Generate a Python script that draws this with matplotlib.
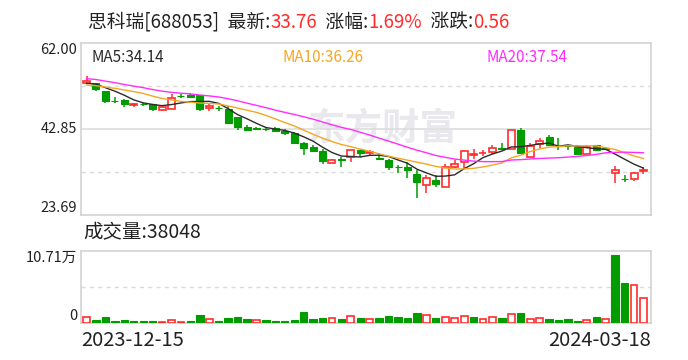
import numpy as np
import pandas as pd
import matplotlib
matplotlib.use("Agg")
import matplotlib.pyplot as plt
import matplotlib.transforms as mtransforms

plt.rcParams["font.family"] = ["Noto Sans CJK SC", "DejaVu Sans"]

# ── data ─────────────────────────────────────────────────────
opens  = [53.16, 53.00, 51.38, 49.15, 49.31, 48.13, 48.42, 48.35, 47.15, 47.37,
          50.25, 50.35, 50.35, 47.46, 47.50, 47.37, 45.52, 43.36, 42.95, 42.90,
          43.07, 42.47, 41.89, 39.80, 38.84, 38.02, 35.27, 36.23, 36.70, 38.17,
          37.50, 36.40, 35.94, 34.38, 34.38, 32.98, 30.53, 31.49, 30.09, 34.45,
          35.43, 37.06, 37.45, 37.66, 38.50, 38.47, 42.56, 36.70, 39.51, 41.07,
          39.15, 39.12, 38.90, 37.21, 39.22, 38.50, 33.20, 31.75, 31.65, 33.60]
highs  = [54.65, 53.05, 51.40, 49.90, 49.60, 48.60, 48.70, 48.40, 47.80, 50.58,
          50.64, 50.80, 50.40, 48.57, 47.97, 47.97, 45.60, 43.74, 43.36, 43.36,
          43.36, 42.78, 42.18, 39.95, 39.22, 38.47, 36.17, 36.70, 38.17, 38.30,
          38.17, 37.44, 36.10, 34.90, 35.50, 33.72, 32.67, 32.54, 35.05, 35.94,
          38.17, 38.39, 38.17, 39.29, 39.73, 42.70, 43.07, 39.66, 40.84, 41.51,
          40.84, 39.25, 39.29, 39.22, 39.22, 38.84, 34.61, 32.54, 33.42, 34.45]
lows   = [53.00, 51.38, 48.57, 48.57, 47.80, 47.80, 48.10, 46.90, 46.90, 47.37,
          49.75, 49.90, 46.79, 46.79, 46.90, 44.25, 42.60, 42.60, 42.60, 42.45,
          42.47, 41.58, 39.80, 36.99, 38.02, 35.20, 35.27, 34.45, 35.43, 36.55,
          36.99, 36.10, 33.87, 33.10, 31.94, 27.55, 28.66, 30.00, 30.09, 34.10,
          34.00, 36.23, 36.90, 37.28, 38.17, 38.47, 37.57, 36.70, 38.68, 39.22,
          38.17, 38.17, 37.35, 37.21, 38.05, 38.17, 30.89, 31.11, 31.33, 32.80]
closes = [53.54, 51.69, 49.15, 49.08, 48.48, 48.40, 48.35, 47.37, 47.75, 49.68,
          50.20, 49.90, 47.37, 47.97, 47.46, 44.25, 43.36, 42.70, 42.90, 42.85,
          42.47, 41.89, 39.80, 38.68, 38.02, 35.80, 35.95, 35.90, 38.17, 37.44,
          37.66, 36.10, 34.45, 34.32, 33.78, 31.11, 31.94, 30.67, 34.54, 35.20,
          37.95, 37.37, 37.50, 38.55, 38.47, 42.56, 37.57, 39.00, 40.24, 39.35,
          39.10, 39.05, 37.35, 38.77, 38.17, 38.47, 33.72, 31.71, 33.20, 33.76]
volumes = [9000, 5000, 9000, 3500, 5000, 3500, 3500, 3500, 1500, 5000,
           1500, 3500, 12000, 6500, 3500, 7500, 9500, 6500, 5000, 5000,
           3500, 3500, 5000, 17000, 6500, 8000, 8000, 6500, 10500, 8000,
           6000, 8000, 11000, 9500, 8000, 15500, 12000, 8000, 9500, 8000,
           10500, 9500, 6000, 9000, 8000, 13500, 15500, 6000, 7500, 6500,
           5000, 6500, 3500, 4500, 9500, 6500, 101600, 59600, 57600, 38048]
# closes before the window, estimated from where the MA lines start
pre_closes = [55.8, 56.3, 55.9, 56.6, 55.7, 55.2, 55.6, 55.0, 54.9, 54.0,
              53.1, 52.4, 51.9, 52.1, 52.0, 52.5, 53.2, 52.9, 53.0]

ma_labels = {5: 34.14, 10: 36.26, 20: 37.54}   # values shown in the header
title_stats = ("33.76", "1.69%", "0.56")
price_ticks = [23.69, 42.85, 62.00]
vol_max = 107100
date_first, date_last = "2023-12-15", "2024-03-18"

RED = "#FF2C2C"
GREEN = "#009C00"
MA_COLORS = {5: "#2B2B2B", 10: "#F5A623", 20: "#FF2DFF"}
FRAME = "#CFCFCF"
GRID = "#DADADA"

# ── derived ──────────────────────────────────────────────────
n = len(closes)
x = np.arange(n)
all_close = pd.Series(pre_closes + closes)
ma = {k: all_close.rolling(k).mean().values[len(pre_closes):] for k in (5, 10, 20)}
o, h, l, c = map(np.array, (opens, highs, lows, closes))
up = c >= o
prev_c = np.array([pre_closes[-1]] + closes[:-1])
vol_up = c >= prev_c

# ── figure ───────────────────────────────────────────────────
fig = plt.figure(figsize=(6.88, 3.6), dpi=100, facecolor="white")
W, H = 688.0, 360.0
def box(x0, y0, x1, y1):
    return [x0 / W, 1 - y1 / H, (x1 - x0) / W, (y1 - y0) / H]

ax = fig.add_axes(box(80.7, 43, 651, 215.3))
axv = fig.add_axes(box(80.7, 251.3, 651, 323.3))

for a in (ax, axv):
    a.set_xlim(-0.62, 59.8)
    a.set_xticks([])
    a.set_yticks([])
    for s in a.spines.values():
        s.set_color(FRAME)
        s.set_linewidth(1.1)

ax.set_ylim(price_ticks[0], price_ticks[-1])
axv.set_ylim(0, vol_max)

# grid lines
mid = price_ticks[1]
ax.axhline(mid, color=GRID, lw=1.1, zorder=1)
for yy in ((price_ticks[0] + mid) / 2, (mid + price_ticks[-1]) / 2):
    ax.axhline(yy, color=GRID, lw=1.0, ls=(0, (3, 3)), zorder=1)
axv.axhline(vol_max / 2, color=GRID, lw=1.0, ls=(0, (3, 3)), zorder=1)

# watermark
ax.text(383 / W, 1 - 129 / H, "东方财富", transform=fig.transFigure,
        ha="center", va="center", fontsize=27, color="#E8E8ED",
        fontweight="bold", zorder=0.5)

# candles
bw = 0.74
cols = np.where(up, RED, GREEN)
ax.vlines(x, l, h, colors=cols, lw=1.1, zorder=2)
body_lo = np.minimum(o, c)
body_h = np.maximum(np.abs(c - o), 0.09)
ax.bar(x[~up], body_h[~up], bottom=body_lo[~up], width=bw,
       color=GREEN, edgecolor=GREEN, lw=0.8, zorder=3)
ax.bar(x[up], body_h[up], bottom=body_lo[up], width=bw,
       facecolor="white", edgecolor=RED, lw=1.2, zorder=3)

# moving averages
for k, col in MA_COLORS.items():
    ax.plot(x, ma[k], color=col, lw=1.0, zorder=4)

# volume bars
vol = np.array(volumes)
axv.bar(x[~vol_up], vol[~vol_up], width=0.78, color=GREEN,
        edgecolor=GREEN, lw=0.8, zorder=3)
axv.bar(x[vol_up], vol[vol_up], width=0.72, facecolor="white",
        edgecolor=RED, lw=1.2, zorder=3)

# y labels
tr = mtransforms.blended_transform_factory(ax.transAxes, ax.transData)
tick_fs = 10.5
ax.text(-0.006, price_ticks[-1], f"{price_ticks[-1]:.2f}", transform=tr,
        ha="right", va="top", fontsize=tick_fs, color="#222222")
ax.text(-0.006, price_ticks[1], f"{price_ticks[1]:.2f}", transform=tr,
        ha="right", va="center", fontsize=tick_fs, color="#222222")
ax.text(-0.006, price_ticks[0], f"{price_ticks[0]:.2f}", transform=tr,
        ha="right", va="bottom", fontsize=tick_fs, color="#222222")
trv = mtransforms.blended_transform_factory(axv.transAxes, axv.transData)
axv.text(-0.006, vol_max, f"{vol_max / 10000:.2f}万", transform=trv,
         ha="right", va="top", fontsize=tick_fs, color="#222222")
axv.text(-0.006, 0, "0", transform=trv, ha="right", va="bottom",
         fontsize=tick_fs, color="#222222")

# MA labels
for xp, k in ((91, 5), (283, 10), (487, 20)):
    fig.text(xp / W, 1 - 57 / H, f"MA{k}:{ma_labels[k]:.2f}", ha="left",
             va="center", fontsize=11, color=MA_COLORS[k])

# title in pieces
pieces = [("思科瑞[688053]  最新:", "#222222"), (title_stats[0], RED),
          ("  涨幅:", "#222222"), (title_stats[1], RED),
          ("  涨跌:", "#222222"), (title_stats[2], RED)]
prev = fig.text(88 / W, 1 - 22 / H, pieces[0][0], ha="left", va="center",
                fontsize=13.5, color=pieces[0][1])
for txt, col in pieces[1:]:
    prev = ax.annotate(txt, xy=(1, 0.5), xycoords=prev, ha="left", va="center",
                       fontsize=13.5, color=col, annotation_clip=False)

fig.text(83 / W, 1 - 233 / H, f"成交量:{volumes[-1]}", ha="left", va="center",
         fontsize=14, color="#222222")

fig.text(81 / W, 1 - 341 / H, date_first, ha="left", va="center",
         fontsize=14.5, color="#222222")
fig.text(651 / W, 1 - 341 / H, date_last, ha="right", va="center",
         fontsize=14.5, color="#222222")

fig.savefig("out.png", dpi=100, facecolor="white")
